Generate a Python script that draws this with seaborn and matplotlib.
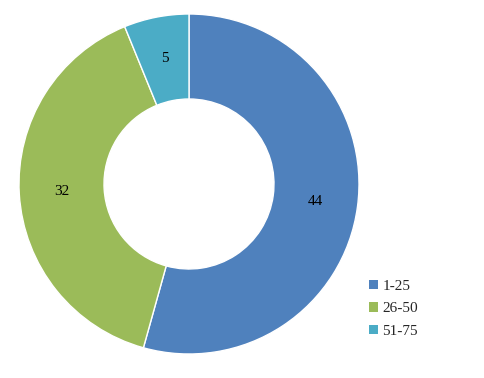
import matplotlib
matplotlib.use("Agg")
import matplotlib.pyplot as plt
import seaborn as sns
import numpy as np
from matplotlib.patches import Patch

categories = ["1-25", "26-50", "51-75"]
values = [44, 32, 5]
colors = ["#4F81BD", "#9BBB59", "#4BACC6"]

sns.set_style("white")
plt.rcParams['font.family'] = ['Liberation Serif', 'DejaVu Serif']

fig = plt.figure(figsize=(4.84, 3.78), dpi=100)
ax = fig.add_axes([19/484, 24/378, 340/484, 340/378])
wedges, _ = ax.pie(values, colors=colors, startangle=90, counterclock=False,
                   wedgeprops=dict(width=0.5, edgecolor="white", linewidth=1))
total = sum(values)
start = 90.0
for v in values:
    ang = start - v / total * 360 / 2
    r = 0.75
    ax.text(r * np.cos(np.radians(ang)), r * np.sin(np.radians(ang)), str(v),
            ha="center", va="center", fontsize=11, color="#000000")
    start -= v / total * 360
ax.set_xlim(-1, 1)
ax.set_ylim(-1, 1)
ax.set_aspect("equal")
ax.axis("off")

handles = [Patch(facecolor=c, edgecolor="none") for c in colors]
fig.legend(handles, categories, loc="upper left", bbox_to_anchor=(357/484, 1 - 268/378),
           frameon=False, fontsize=11, handlelength=0.55, handleheight=0.55,
           handletextpad=0.3, labelspacing=0.6, borderpad=0.3)
fig.savefig("out.png", dpi=100)
